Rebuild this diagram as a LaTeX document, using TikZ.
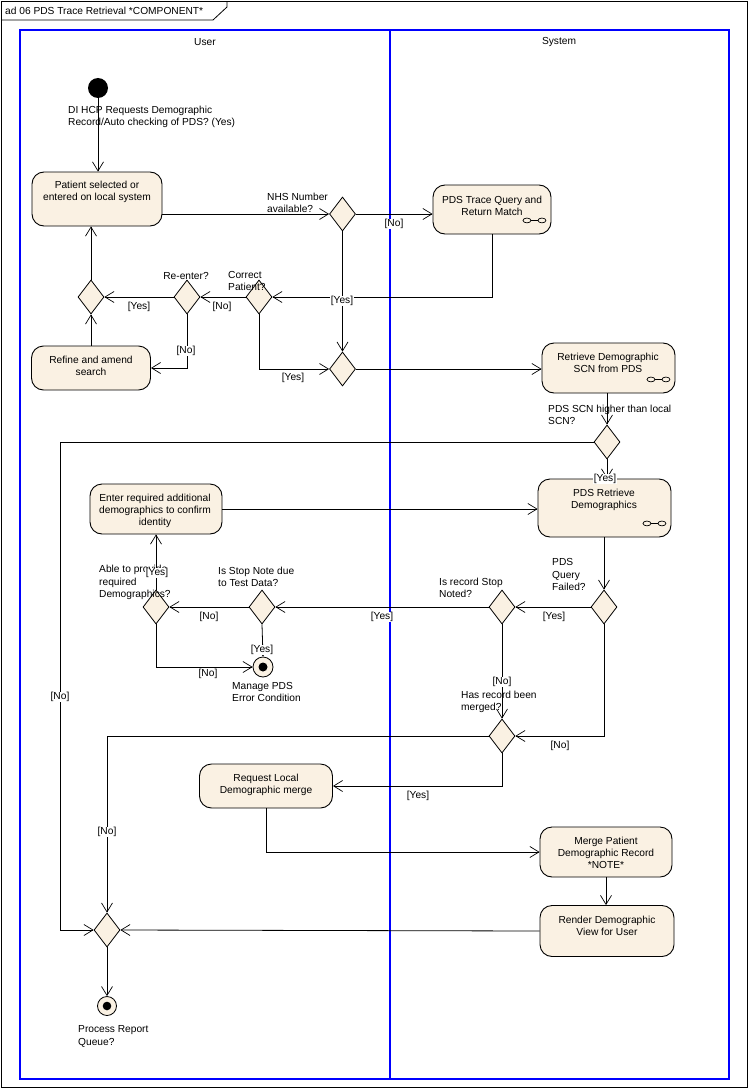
\documentclass[tikz,border=0pt]{standalone}
\usepackage{fontspec}
\setmainfont{Liberation Sans}
\usetikzlibrary{shapes.geometric,arrows.meta,calc}
\definecolor{actfill}{RGB}{250,241,227}
\definecolor{lanecol}{RGB}{0,0,255}
\begin{document}
\begin{tikzpicture}[x=1pt,y=-1pt, font=\fontsize{10.2}{12.2}\selectfont,
  act/.style={draw, line width=0.9pt, fill=actfill, rounded corners=12pt, inner sep=0},
  acttext/.style={align=center, inner sep=0},
  dec/.style={draw, diamond, fill=actfill, line width=0.8pt, minimum width=26pt, minimum height=34pt, inner sep=0},
  flow/.style={line width=0.8pt},
  arr/.style={flow, -{Straight Barb[length=9pt,width=11pt,line width=0.7pt]}},
  guard/.style={fill=white, inner sep=0.6pt},
  note/.style={align=left, inner sep=0, anchor=west},
  lanestyle/.style={draw=lanecol, line width=2.2pt},
  rake/.pic={
    \draw[line width=0.7pt] (-7.5,0) ellipse [x radius=4, y radius=2.4];
    \draw[line width=0.7pt] (7.5,0) ellipse [x radius=4, y radius=2.4];
    \draw[line width=0.7pt] (-3.5,0) -- (3.5,0);
  }
]
\useasboundingbox (0,0) rectangle (749,1089);
\fill[white] (0,0) rectangle (749,1089);
% frame
\draw[line width=0.8pt] (1.5,1.5) rectangle (747.5,1087.5);
\draw[line width=0.8pt] (1.5,20) -- (213,20) -- (227,7) -- (227,1.5);
\node[anchor=west, inner sep=0] (title) at (5,11) {ad 06 PDS Trace Retrieval *COMPONENT*};
% lanes
\draw[lanestyle] (20,30) rectangle (729,1079);
\draw[lanestyle] (390,30) -- (390,1079);
\node (userlane) at (205,42) {User};
\node (syslane) at (559,42) {System};

% activities
\node[act, minimum width=130pt, minimum height=54pt] (A) at (97,199) {};
\node[acttext] (At) at (97,192) {Patient selected or\\entered on local system};
\node[act, minimum width=118pt, minimum height=49pt] (B) at (492,209.5) {};
\node[acttext] (Bt) at (492,206) {PDS Trace Query and\\Return Match};
\node[act, minimum width=119pt, minimum height=44pt] (C) at (91,368) {};
\node[acttext] (Ct) at (91,366) {Refine and amend\\search};
\node[act, minimum width=133pt, minimum height=50pt] (D) at (608.5,368) {};
\node[acttext] (Dt) at (608,363) {Retrieve Demographic\\SCN from PDS};
\node[act, minimum width=133pt, minimum height=58pt] (E) at (604.5,508) {};
\node[acttext] (Et) at (604,500) {PDS Retrieve\\Demographics};
\node[act, minimum width=132pt, minimum height=50pt] (F) at (156,509) {};
\node[acttext] (Ft) at (155,511) {Enter required additional\\demographics to confirm\\identity};
\node[act, minimum width=133pt, minimum height=44pt] (G) at (266,786) {};
\node[acttext] (Gt) at (266,785) {Request Local\\Demographic merge};
\node[act, minimum width=132pt, minimum height=50pt] (H) at (606,852) {};
\node[acttext] (Ht) at (606,853) {Merge Patient\\Demographic Record\\*NOTE*};
\node[act, minimum width=134pt, minimum height=51pt] (I) at (607,931) {};
\node[acttext] (It) at (607,926) {Render Demographic\\View for User};
\pic at ([shift={(-17,-14)}]B.south east) {rake};
\pic at ([shift={(-17,-14)}]D.south east) {rake};
\pic at ([shift={(-17,-14)}]E.south east) {rake};

% decisions
\node[dec] (D1) at (342.5,214) {};
\node[dec] (D2) at (259,297) {};
\node[dec] (D3) at (342.5,369) {};
\node[dec] (D4) at (187,297) {};
\node[dec] (D5) at (91,297) {};
\node[dec] (D6) at (607,442) {};
\node[dec] (D7) at (604,607) {};
\node[dec] (D8) at (502,607) {};
\node[dec] (D10) at (262,607) {};
\node[dec] (D11) at (156,607) {};
\node[dec] (D12) at (502,736) {};
\node[dec] (D9) at (107,930) {};

% initial / final
\node[circle, fill=black, minimum size=20pt, inner sep=0] (init) at (98,88) {};
\node[circle, draw, line width=0.8pt, fill=actfill, minimum size=20pt, inner sep=0] (fin1) at (263,667) {};
\fill (fin1.center) circle (4.5);
\node[circle, draw, line width=0.8pt, fill=actfill, minimum size=19pt, inner sep=0] (fin2) at (107,1006) {};
\fill (fin2.center) circle (4.3);

\coordinate (k1) at (60,930);

% flows
\draw[arr] (init.south) -- (init.south |- A.north);
\draw[arr] (A.east |- D1.west) -- (D1.west);
\draw[arr] (D1.east) -- (D1.east -| B.west);
\draw[arr] (B.south) |- (D2.east);
\draw[arr] (D1.south) -- (D3.north);
\draw[arr] (D2.west) -- (D4.east);
\draw[arr] (D4.west) -- (D5.east);
\draw[arr] (D4.south) |- (C.east);
\draw[arr] (C.north) -- (D5.south);
\draw[arr] (D5.north) -- (D5.north |- A.south);
\draw[arr] (D2.south) |- (D3.west);
\draw[arr] (D3.east) -- (D3.east -| D.west);
\draw[arr] (D6.north |- D.south) -- (D6.north);
\draw[arr] (D6.west) -| (k1) -- (D9.west);
\draw[arr] (D6.south) -- (D6.south |- E.north);
\draw[arr] (F.east) -- (F.east -| E.west);
\draw[arr] (D7.north |- E.south) -- (D7.north);
\draw[arr] (D7.west) -- (D8.east);
\draw[arr] (D8.west) -- (D10.east);
\draw[arr] (D10.west) -- (D11.east);
\draw[arr] (D11.north) -- (D11.north |- F.south);
\draw[arr] (D11.south) |- (fin1.west);
\draw[arr] (D10.south) -- (fin1.north);
\draw[arr] (D8.south) -- (D12.north);
\draw[arr] (D7.south) |- (D12.east);
\draw[arr] (D12.west) -| (D9.north);
\draw[arr] (D12.south) |- (G.east);
\draw[arr] (G.south) |- (H.west);
\draw[arr] (H.south) -- (H.south |- I.north);
\draw[arr] (I.west) -- (D9.east);
\draw[arr] (D9.south) -- (fin2.north);

% notes
\node[note] (n1) at (68,116.5) {DI HCP Requests Demographic\\Record/Auto checking of PDS? (Yes)};
\node[note] (n2) at (267,202.5) {NHS Number\\available?};
\node[note] (n3) at (228,281) {Correct\\Patient?};
\node[inner sep=0] (n4) at (186,276) {Re-enter?};
\node[note] (n5) at (548,414.5) {PDS SCN higher than local\\SCN?};
\node[note] (n6) at (552,574.5) {PDS\\Query\\Failed?};
\node[note] (n7) at (439,587.5) {Is record Stop\\Noted?};
\node[note] (n8) at (461,701.5) {Has record been\\merged?};
\node[note] (n9) at (218,577) {Is Stop Note due\\to Test Data?};
\node[note] (n10) at (99,582.5) {Able to provide\\required\\Demographics?};
\node[note] (n11) at (232,692) {Manage PDS\\Error Condition};
\node[note] (n12) at (78,1036.5) {Process Report\\Queue?};

% guards
\node[guard] (g1) at (394,224) {[No]};
\node[guard] (g2) at (342,301) {[Yes]};
\node[guard] (g3) at (222,307) {[No]};
\node[guard] (g4) at (139,307) {[Yes]};
\node[guard] (g5) at (186,351) {[No]};
\node[guard] (g6) at (293,378) {[Yes]};
\node[guard] (g7) at (605,479) {[Yes]};
\node[guard] (g8) at (60,697) {[No]};
\node[guard] (g9) at (554,617) {[Yes]};
\node[guard] (g10) at (502,682) {[No]};
\node[guard] (g11) at (560,746) {[No]};
\node[guard] (g12) at (382,617) {[Yes]};
\node[guard] (g13) at (209,617) {[No]};
\node[guard] (g14) at (157,573) {[Yes]};
\node[guard] (g15) at (262,650) {[Yes]};
\node[guard] (g16) at (208,674) {[No]};
\node[guard] (g17) at (418,796) {[Yes]};
\node[guard] (g18) at (107,832) {[No]};
\end{tikzpicture}
\end{document}
